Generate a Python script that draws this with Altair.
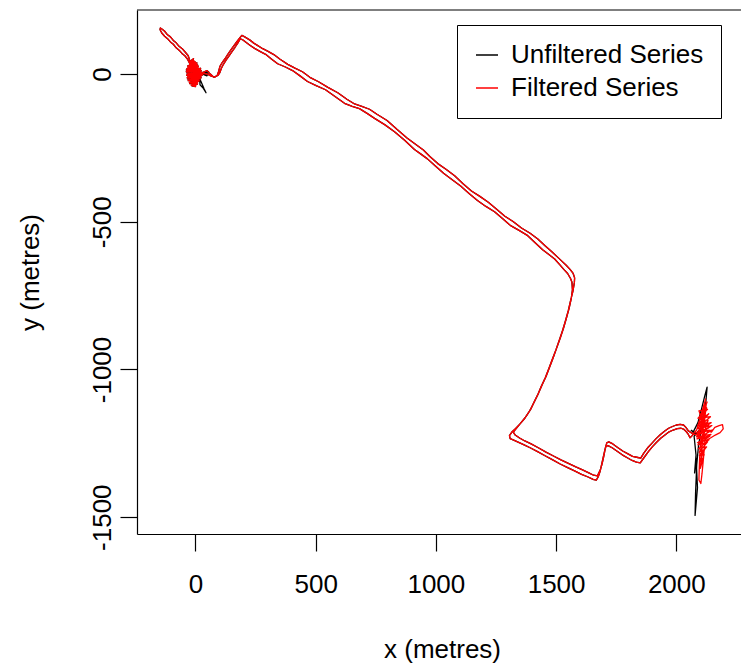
import altair as alt
import pandas as pd

SERIES = ["Unfiltered Series", "Filtered Series"]
COLORS = ["black", "red"]
X_TICKS = [0, 500, 1000, 1500, 2000]
Y_TICKS = [-1500, -1000, -500, 0]
X_DOMAIN = [-243, 2269]
Y_DOMAIN = [-1557, 217]

# track sections (x metres, y metres)
START_FILTERED = [(-15, 50), (-2, 42), (-25, 38), (5, 34), (-32, 28), (12, 26), (-36, 18),
                  (20, 16), (-38, 8), (25, 6), (-35, -2), (28, -4), (-34, -12), (22, -14),
                  (-30, -22), (15, -24), (-24, -32), (8, -34), (-15, -40), (0, -42),
                  (-20, -28), (18, -8), (-36, 4), (24, 12), (-30, 22), (10, 30), (-20, 44),
                  (-8, 52), (-28, 10), (14, -20), (-12, -36), (26, 0), (-38, 14), (6, 38),
                  (-22, -16), (20, 20), (-5, -30), (-33, -6), (16, 8), (-18, 32), (-30, 62)]
START_RAW = [(-15, 50), (10, -5), (-2, 42), (-25, 38), (5, 34), (-32, 28), (12, 26), (-36, 18),
             (20, 16), (-38, 8), (25, 6), (-35, -2), (28, -4), (-34, -12), (22, -14),
             (-30, -22), (15, -24), (-24, -32), (8, -34), (-15, -40), (0, -42),
             (-20, -28), (18, -8), (-36, 4), (24, 12), (-30, 22), (10, 30), (-20, 44),
             (-8, 52), (-28, 10), (14, -20), (-12, -36), (26, 0), (-38, 14), (6, 38),
             (-22, -16), (20, 20), (-5, -30), (-33, -6), (16, 8), (-18, 32), (-30, 62)]
SPIKE = [(-42, 74), (-55, 86), (-68, 94), (-80, 106), (-92, 114), (-104, 126), (-116, 133),
         (-128, 145), (-138, 152), (-146, 156), (-147, 150), (-140, 139), (-128, 128),
         (-116, 120), (-104, 109), (-92, 101), (-80, 89), (-68, 81), (-56, 70), (-44, 62),
         (-34, 52), (-20, 30)]
OUTBOUND = [(-15, 25), (5, -5), (-20, -30), (10, 10), (30, 5), (48, 12), (62, 0), (75, -10),
            (90, -6), (96, 8), (102, 26), (112, 40), (123, 52), (134, 66), (146, 80), (158, 94),
            (170, 107), (182, 120), (193, 131), (205, 126), (227, 115), (244, 104), (256, 98),
            (280, 86), (302, 77), (326, 66), (352, 50), (384, 33), (414, 20), (445, 8),
            (476, -11), (512, -26), (551, -45), (592, -63), (630, -85), (662, -101), (692, -109),
            (724, -119), (755, -136), (797, -157), (838, -187), (880, -216), (921, -241),
            (948, -257), (975, -279), (1008, -303), (1042, -322), (1078, -344), (1113, -371),
            (1148, -396), (1183, -414), (1218, -434), (1254, -458), (1287, -481), (1321, -499),
            (1356, -521), (1392, -539), (1424, -558), (1454, -581), (1480, -600), (1504, -618),
            (1525, -634), (1542, -647), (1558, -661), (1571, -675), (1577, -690), (1576, -706),
            (1570, -735), (1560, -768), (1551, -800), (1540, -832), (1528, -865), (1514, -899),
            (1500, -932), (1484, -966), (1470, -997), (1455, -1028), (1438, -1058),
            (1422, -1089), (1405, -1117), (1388, -1143), (1370, -1165), (1350, -1184),
            (1332, -1200), (1316, -1212), (1306, -1224), (1309, -1234), (1326, -1240),
            (1342, -1246), (1367, -1255), (1392, -1265), (1423, -1278), (1454, -1292),
            (1486, -1306), (1517, -1320), (1548, -1332), (1579, -1344), (1606, -1355),
            (1633, -1364), (1654, -1372), (1667, -1375), (1676, -1362), (1683, -1345),
            (1690, -1320), (1696, -1298), (1702, -1276), (1707, -1259), (1716, -1258),
            (1733, -1265), (1754, -1277), (1775, -1289), (1796, -1299), (1816, -1308),
            (1834, -1314), (1850, -1316), (1866, -1298), (1883, -1279), (1900, -1262),
            (1916, -1248), (1935, -1233), (1954, -1221), (1970, -1211), (1987, -1205),
            (2004, -1200), (2020, -1199), (2032, -1203), (2041, -1210), (2050, -1220),
            (2057, -1231), (2066, -1224), (2074, -1214)]
EAST_FILTERED = [(2084, -1206), (2122, -1100), (2110, -1140), (2128, -1110), (2100, -1170),
                 (2135, -1150), (2088, -1190), (2145, -1180), (2082, -1215), (2150, -1205),
                 (2086, -1235), (2140, -1225), (2090, -1255), (2130, -1245), (2095, -1280),
                 (2118, -1270), (2098, -1310), (2112, -1300), (2100, -1335), (2108, -1250),
                 (2092, -1215), (2138, -1195), (2096, -1160), (2126, -1130), (2104, -1200),
                 (2146, -1212), (2160, -1196), (2178, -1190), (2192, -1187), (2195, -1201),
                 (2182, -1214), (2162, -1222), (2142, -1232), (2119, -1242), (2113, -1300),
                 (2107, -1352), (2102, -1386), (2094, -1374), (2096, -1320), (2099, -1262),
                 (2132, -1172), (2090, -1228), (2124, -1120), (2116, -1190),
                 (2094, -1140), (2130, -1135), (2090, -1165), (2142, -1160), (2086, -1200),
                 (2148, -1190), (2084, -1228), (2144, -1220), (2088, -1248), (2136, -1238),
                 (2092, -1268), (2126, -1262), (2096, -1292), (2116, -1288), (2102, -1320),
                 (2110, -1230), (2098, -1180), (2120, -1150), (2106, -1215), (2136, -1205),
                 (2100, -1245), (2128, -1185), (2094, -1205), (2086, -1222), (2070, -1218)]
EAST_RAW = [(2080, -1215), (2062, -1206), (2070, -1212), (2090, -1180), (2106, -1130),
            (2118, -1090), (2128, -1060), (2122, -1118), (2100, -1200), (2074, -1226),
            (2082, -1290), (2076, -1350), (2086, -1300), (2080, -1420), (2078, -1494),
            (2088, -1400), (2084, -1330), (2092, -1260), (2110, -1170), (2096, -1215),
            (2070, -1218)]
INBOUND = [(2050, -1208), (2040, -1196), (2030, -1188), (2016, -1186), (2000, -1188),
           (1984, -1193), (1968, -1199), (1952, -1208), (1934, -1220), (1915, -1235),
           (1898, -1250), (1880, -1266), (1864, -1284), (1852, -1300), (1840, -1298),
           (1818, -1294), (1797, -1285), (1777, -1276), (1756, -1264), (1736, -1252),
           (1719, -1245), (1711, -1248), (1704, -1270), (1698, -1295), (1691, -1320),
           (1684, -1340), (1672, -1360), (1656, -1358), (1636, -1350), (1610, -1340),
           (1582, -1330), (1551, -1318), (1520, -1306), (1489, -1293), (1458, -1280),
           (1426, -1265), (1396, -1252), (1370, -1242), (1348, -1232), (1330, -1222),
           (1322, -1212), (1338, -1196), (1356, -1178), (1376, -1158), (1394, -1135),
           (1410, -1108), (1427, -1080), (1443, -1050), (1460, -1020), (1474, -990),
           (1489, -958), (1503, -926), (1518, -892), (1531, -860), (1543, -826), (1554, -793),
           (1563, -760), (1568, -730), (1566, -705), (1560, -692), (1548, -675), (1532, -661),
           (1515, -645), (1494, -626), (1470, -611), (1444, -595), (1414, -572), (1382, -547),
           (1346, -529), (1311, -513), (1277, -489), (1244, -466), (1208, -448), (1173, -428),
           (1138, -404), (1103, -379), (1068, -358), (1032, -336), (998, -311), (965, -287),
           (938, -271), (911, -255), (870, -224), (828, -195), (787, -171), (745, -150),
           (714, -133), (682, -117), (652, -109), (620, -99), (582, -77), (541, -53),
           (502, -39), (466, -25), (435, -6), (404, 12), (374, 24), (342, 35), (316, 51),
           (292, 67), (270, 76), (246, 87), (228, 97), (210, 108), (195, 117), (186, 119),
           (176, 105), (164, 90), (152, 76), (140, 62), (128, 48), (117, 34), (108, 20),
           (102, 6), (94, -4), (80, -10), (64, -6), (50, 0), (36, 2)]
END_FILTERED = [(20, -5), (-8, 46), (-30, 26), (22, 18), (-36, 10), (27, 2), (-37, -4),
                (24, -10), (-33, -16), (18, -20), (-26, -28), (10, -30), (-18, -38), (2, -40),
                (-28, 0), (12, 22), (-34, 20), (0, 40), (-20, 8), (16, -14), (-10, -26),
                (-24, 34), (6, 10), (-14, 18), (-6, 12)]
END_RAW = [(40, 4), (55, 8), (48, -6), (30, 0), (20, -5), (-8, 46), (-30, 26), (22, 18),
           (-36, 10), (27, 2), (-37, -4), (24, -10), (-33, -16), (18, -20), (19, -36),
           (31, -46), (44, -63), (36, -50), (15, -10), (-6, 12)]


def build(name, sections):
    rows = []
    for sec in sections:
        for x, y in sec:
            rows.append({"series": name, "i": len(rows), "x": x, "y": y})
    return rows


rows = build(SERIES[0], [START_RAW, SPIKE, OUTBOUND, EAST_RAW, INBOUND, END_RAW]) + \
       build(SERIES[1], [START_FILTERED, SPIKE, OUTBOUND, EAST_FILTERED, INBOUND, END_FILTERED])
df = pd.DataFrame(rows)

FONT = "Liberation Sans"
FS = 26

x_axis = alt.Axis(values=X_TICKS, title="x (metres)", grid=False,
                  domainColor="black", domainWidth=1.2, tickColor="black", tickWidth=1.2,
                  tickSize=17, labelFont=FONT, labelFontSize=FS, labelColor="black",
                  labelBaseline="alphabetic", labelPadding=41, labelFlush=False,
                  labelOverlap=False, labelExpr="toString(datum.value)",
                  titleFont=FONT, titleFontSize=FS, titleFontWeight="normal",
                  titleColor="black", titleX=305, titleY=123, titleAlign="center",
                  titleBaseline="alphabetic")
y_axis = alt.Axis(values=Y_TICKS, title="y (metres)", grid=False,
                  domainColor="black", domainWidth=1.2, tickColor="black", tickWidth=1.2,
                  tickSize=17, labelFont=FONT, labelFontSize=FS, labelColor="black",
                  labelAngle=270, labelAlign="center", labelBaseline="alphabetic",
                  labelPadding=10, labelFlush=False, labelOverlap=False,
                  labelExpr="toString(datum.value)",
                  titleFont=FONT, titleFontSize=FS, titleFontWeight="normal",
                  titleColor="black", titleAngle=270, titleX=-99, titleY=262,
                  titleAlign="center", titleBaseline="alphabetic")

color = alt.Color("series:N", scale=alt.Scale(domain=SERIES, range=COLORS),
                  legend=alt.Legend(title=None, orient="none", legendX=320, legendY=15,
                                    strokeColor="black", fillColor="white", padding=17,
                                    symbolType="stroke", symbolSize=484,
                                    symbolStrokeWidth=1.5, labelFont=FONT,
                                    labelFontSize=FS, labelColor="black", labelOffset=11,
                                    rowPadding=7, labelLimit=400))

base = alt.Chart(df).mark_line(strokeWidth=1.3, strokeJoin="round").encode(
    x=alt.X("x:Q", scale=alt.Scale(domain=X_DOMAIN, nice=False, zero=False), axis=x_axis),
    y=alt.Y("y:Q", scale=alt.Scale(domain=Y_DOMAIN, nice=False, zero=False), axis=y_axis),
    order="i:Q",
    color=color,
)
raw_layer = base.transform_filter(alt.datum.series == SERIES[0])
filt_layer = base.transform_filter(alt.datum.series == SERIES[1])
top_border = alt.Chart(pd.DataFrame({"k": [0]})).mark_rule(color="black", strokeWidth=1.2).encode(
    x=alt.value(0), x2=alt.value(604), y=alt.value(0))

chart = alt.layer(raw_layer, filt_layer, top_border).properties(
    width=604, height=524,
    autosize=alt.AutoSizeParams(type="none"),
    padding={"left": 137, "top": 10, "right": 0, "bottom": 130},
).configure_view(stroke=None)

chart.save("out.html", embed_options={"renderer": "svg", "actions": False})
